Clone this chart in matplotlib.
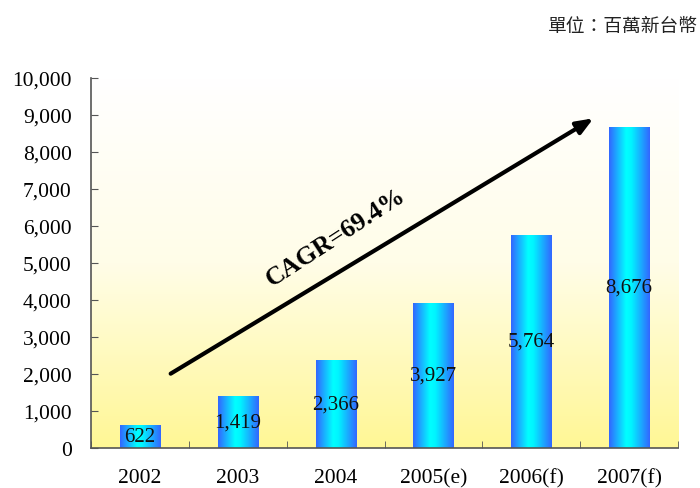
import numpy as np
import matplotlib
matplotlib.use("Agg")
import matplotlib.pyplot as plt
from matplotlib.colors import LinearSegmentedColormap

categories = ["2002", "2003", "2004", "2005(e)", "2006(f)", "2007(f)"]
values = [622, 1419, 2366, 3927, 5764, 8676]
value_labels = ["622", "1,419", "2,366", "3,927", "5,764", "8,676"]
yticks = [0, 1000, 2000, 3000, 4000, 5000, 6000, 7000, 8000, 9000, 10000]
ytick_labels = ["0", "1,000", "2,000", "3,000", "4,000", "5,000", "6,000",
                "7,000", "8,000", "9,000", "10,000"]
unit_text = "單位：百萬新台幣"
cagr_text = "CAGR=69.4%"

serif = ["Liberation Serif", "DejaVu Serif"]

fig = plt.figure(figsize=(7.0, 4.89), dpi=100)
ax = fig.add_axes([0.13, 0.0818, 0.8386, 0.7566])

n = len(categories)
x = np.arange(n)

# background gradient (white top -> yellow bottom)
bg_cmap = LinearSegmentedColormap.from_list("bg", ["#FFF795", "#FFFDE8", "#FFFFFF"])
grad = np.linspace(0, 1, 256).reshape(-1, 1)
ax.imshow(grad, aspect="auto", cmap=bg_cmap, origin="lower",
          extent=[-0.5, n - 0.5, 0, 10000], zorder=0)

# bars with horizontal gradient
bar_cmap = LinearSegmentedColormap.from_list(
    "bar", [(0.0, "#3366FF"), (0.42, "#00FFFF"), (0.55, "#00F4FF"), (1.0, "#3366FF")])
hgrad = np.linspace(0, 1, 256).reshape(1, -1)
width = 0.41
bars = ax.bar(x, values, width=width, color="none", edgecolor="none", zorder=2)
for b in bars:
    x0, y0 = b.get_x(), b.get_y()
    im = ax.imshow(hgrad, aspect="auto", cmap=bar_cmap,
                   extent=[x0, x0 + b.get_width(), y0, y0 + b.get_height()],
                   zorder=2)
    im.set_clip_path(b)

ax.set_xlim(-0.5, n - 0.5)
ax.set_ylim(0, 10000)

# value labels at bar centers
for xi, v, lab in zip(x, values, value_labels):
    ax.text(xi, v / 2, lab, ha="center", va="center", fontsize=15,
            family=serif, color="#111111", zorder=4)

# axes styling
for s in ["top", "right"]:
    ax.spines[s].set_visible(False)
for s in ["left", "bottom"]:
    ax.spines[s].set_color("#555555")
    ax.spines[s].set_linewidth(1.2)

ax.set_yticks(yticks)
ax.set_yticklabels(ytick_labels, family=serif, fontsize=15.5)
ax.tick_params(axis="y", direction="in", length=5, color="#555555", pad=14)

ax.set_xticks(x)
ax.set_xticklabels(categories, family=serif, fontsize=15.5)
ax.tick_params(axis="x", which="major", length=0, pad=14.5)
ax.set_xticks(np.arange(n + 1) - 0.5, minor=True)
ax.tick_params(axis="x", which="minor", direction="in", length=5, color="#555555")

# CAGR arrow and text
ax.annotate("", xy=(4.66, 8950), xytext=(0.29, 1970),
            arrowprops=dict(arrowstyle="-|>,head_length=1.0,head_width=0.4",
                            color="black", lw=3), zorder=5)
ax.text(2.0, 5700, cagr_text, rotation=33, ha="center", va="center",
        fontsize=18.5, fontweight="bold", family=serif, zorder=5)

fig.text(0.997, 0.945, unit_text, ha="right", va="center", fontsize=13.5,
         family=["Noto Sans CJK TC", "DejaVu Sans"], color="#222222")

fig.savefig("out.png", dpi=100)
